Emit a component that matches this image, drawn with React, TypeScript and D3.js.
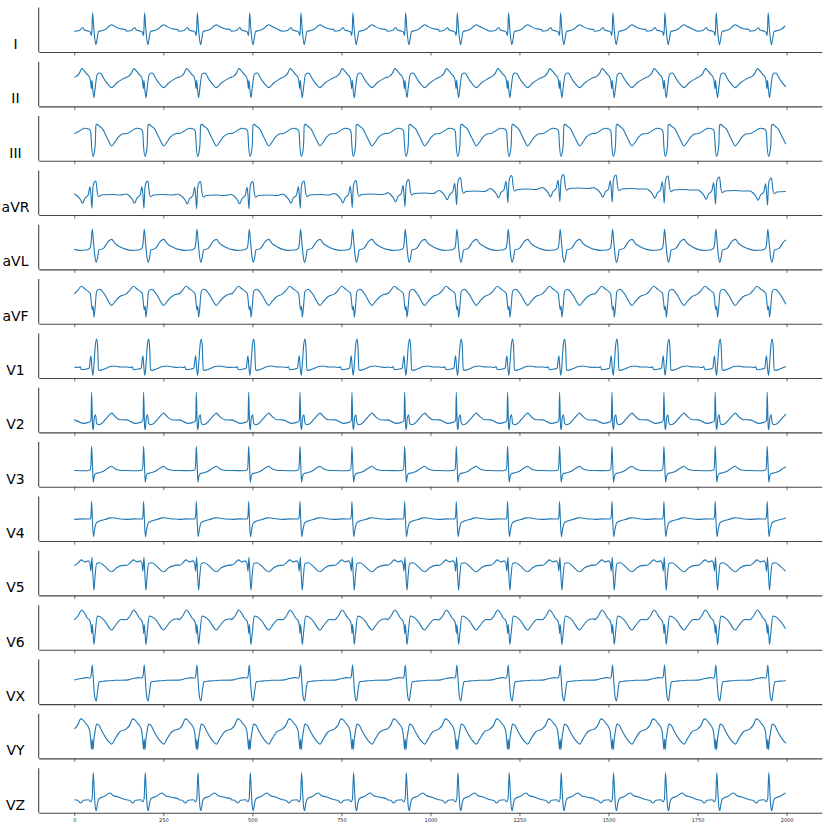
import React, { useEffect, useRef } from 'react';
import * as d3 from 'd3';

// ---------------- data ----------------
const leadNames = ['I', 'II', 'III', 'aVR', 'aVL', 'aVF', 'V1', 'V2', 'V3', 'V4', 'V5', 'V6', 'VX', 'VY', 'VZ'];
// sample index of each beat (R wave in VZ)
const beatSamples = [54, 200, 348, 495, 639, 785, 933, 1078, 1222, 1368, 1515, 1661, 1805, 1951];
const xTicks = [0, 250, 500, 750, 1000, 1250, 1500, 1750, 2000];
const lastSample = 1999;

// beat templates: [offset from beat (samples), amplitude]
const leadI: [number, number][] = [[-54, 20.7], [-40, 21.5], [-30, 24.5], [-26, 22], [-15, 21], [-9, 20], [-6, 16.5], [-4.5, 22], [-2.6, 39.3], [0, 27], [3, 15], [6.5, 7.3], [10, 13], [14, 20.5], [25, 21.5], [35, 23], [45, 26], [51, 27.3], [60, 25.5], [74, 23.3], [90, 22.5]];
const leadII: [number, number][] = [[-54, 29], [-48, 30], [-40, 33], [-33, 37.7], [-27, 36], [-18, 32], [-11, 29], [-8, 24], [-6, 17.7], [-4.5, 26], [-1.7, 16], [1.1, 8.7], [4.8, 19], [10.4, 32], [18, 33.3], [32, 26], [47, 19.5], [50, 18.7], [65, 23.3], [79, 26.7], [92, 29]];
const leadIII: [number, number][] = [[-54, 27], [-40, 29.5], [-25, 32.5], [-12, 31.5], [-8, 29], [-5.4, 14], [-1.7, 4.3], [1.1, 6.5], [4.8, 16], [6.7, 35.3], [10.4, 36.3], [16, 34.5], [25, 32], [37, 23.7], [47, 16.5], [50, 14.7], [60, 18.5], [70, 23.7], [84, 27], [92, 27.5]];
const leadAVR: [number, number][] = [[-54, 21], [-45, 19], [-36, 15], [-31, 11.7], [-24, 17], [-15, 20], [-10, 28.3], [-7.5, 21], [-4.5, 6.7], [-1.5, 28], [3, 33.3], [6.7, 34], [10.4, 23], [14.2, 18.3], [22, 20], [47, 20.5], [75, 20], [92, 21]];
const leadAVL: [number, number][] = [[-54, 20], [-40, 19], [-20, 19.3], [-10, 21], [-7, 26], [-3.6, 40], [0.2, 26], [3.9, 12.7], [7.6, 7], [11, 11], [15, 19.3], [28, 21], [41, 27.7], [47.5, 29.5], [51, 30], [60, 26], [74, 22.7], [92, 20]];
const leadAVF: [number, number][] = [[-54, 29.8], [-45, 33], [-34, 37.5], [-25, 35], [-14, 32], [-9, 30], [-6.4, 22], [-3.6, 13.8], [-1, 17.5], [1.1, 6.5], [3.9, 14], [8.6, 32.2], [16, 34.5], [22, 33.5], [32, 28.8], [47, 19.5], [51, 18.2], [60, 22], [74, 27.2], [92, 29.8]];
const leadV1: [number, number][] = [[-54, 11], [-42, 10.5], [-38, 11.5], [-34, 8.3], [-20, 9], [-12, 10], [-10, 16], [-7.3, 22.3], [-4.5, 10], [-1.7, 2.7], [1.5, 15], [4.8, 31.7], [8.6, 39], [11.4, 31.7], [14.2, 8.3], [18, 7.7], [30, 9], [47, 11.5], [60, 12], [75, 11], [92, 10.5]];
const leadV2: [number, number][] = [[-54, 12.5], [-40, 10.5], [-30, 9], [-15, 10], [-9, 11], [-7, 13], [-5.4, 40], [-2.6, 6], [-0.8, 2.7], [2, 14.3], [5.8, 17.7], [8.6, 9.3], [13.3, 7.7], [22, 8.7], [36.6, 14.3], [47.5, 18.5], [51, 19.3], [60, 16], [74, 12.7], [92, 12.3]];
const leadV3: [number, number][] = [[-54, 16.2], [-20, 16], [-9, 17], [-7, 25], [-5.4, 40.5], [-3, 22], [-0.8, 4.5], [2, 10.5], [6, 13.2], [14, 13.8], [28, 15.5], [41, 18.8], [47.5, 20], [51, 20.5], [60, 18], [74, 16.5], [92, 16.2]];
const leadV4: [number, number][] = [[-54, 21.7], [-30, 22.2], [-10, 22], [-7, 26], [-5.4, 39.5], [-3, 20], [-0.3, 4.3], [3, 11.5], [8, 18.3], [17, 20], [32, 21.5], [47.5, 23.2], [52, 23.3], [70, 22.3], [92, 21.8]];
const leadV5: [number, number][] = [[-54, 30], [-45, 32], [-34, 35.5], [-25, 33.5], [-15, 34.5], [-10, 32], [-7.3, 24.3], [-4.5, 38], [-2, 22], [1.1, 5.3], [4.5, 20], [8.6, 32], [18, 32.7], [32, 29], [46, 24.3], [51, 23.7], [65, 27.7], [83, 30], [92, 30.5]];
const leadV6: [number, number][] = [[-54, 30], [-44, 33.5], [-33, 39.7], [-27, 37.5], [-18, 32], [-10, 28.7], [-7, 23.7], [-5, 16.3], [-3.6, 25.3], [-0.8, 13.7], [1.1, 5.3], [4.8, 17], [10.4, 33.7], [18, 33], [32, 28.7], [46, 21], [51, 19.7], [60, 23.7], [78, 30.3], [92, 31]];
const leadVX: [number, number][] = [[-54, 24], [-35, 25.5], [-20, 26.5], [-10, 26], [-7, 28], [-3.6, 39], [-0.8, 26], [2, 12], [4.8, 4.9], [7.6, 3.2], [11.4, 13], [16, 22.2], [30, 23], [47.5, 23.4], [60, 23.8], [92, 24]];
const leadVY: [number, number][] = [[-54, 29.5], [-45, 33], [-36, 39.5], [-30, 38.5], [-22, 35], [-14, 31], [-10, 26], [-7.3, 16], [-5.4, 9.3], [-3.6, 19], [-1.7, 8.7], [1, 19], [3.9, 26], [8.6, 34.3], [16, 32.7], [23, 27.7], [37, 19.3], [47.5, 15], [51, 14.3], [60, 19.3], [74, 26.7], [92, 29.3]];
const leadVZ: [number, number][] = [[-54, 13], [-45, 12.5], [-36, 9.7], [-28, 12.5], [-14, 13], [-8, 11], [-4, 14], [-0.8, 40.3], [2, 22], [4.8, 6], [7.6, 2], [11.4, 10], [16, 14.3], [30, 16.3], [46, 19.7], [55, 17.3], [70, 15.7], [92, 14]];

const templates = [leadI, leadII, leadIII, leadAVR, leadAVL, leadAVF, leadV1, leadV2, leadV3, leadV4, leadV5, leadV6, leadVX, leadVY, leadVZ];

// per-beat baseline shift of aVR (it drifts upward mid-record)
const aVRShift = [0, 0, -0.5, -0.5, 0, 0.5, 1.5, 3.5, 5.5, 6.5, 6, 5, 4, 3];
const beatShifts: (number[] | null)[] = [null, null, null, aVRShift, null, null, null, null, null, null, null, null, null, null, null];

// ---------------- layout ----------------
const W = 830;
const H = 830;
const axLeft = 38.7;
const axRight = 821.8;
const firstBottom = 52;
const rowStep = 54.34;
const panelH = 44.6;

function buildSeries(tpl: [number, number][], shifts: number[] | null): [number, number][] {
  const pts: [number, number][] = [];
  beatSamples.forEach((b, i) => {
    const next = i < beatSamples.length - 1 ? beatSamples[i + 1] : null;
    const sh = shifts ? shifts[i] : 0;
    tpl.forEach(([dt, v]) => {
      const s = b + dt;
      if (s < 0 || s > lastSample) return;
      if (next !== null && s >= next - 54 - 0.5) return;
      pts.push([s, v + sh]);
    });
  });
  return pts;
}

export default function App() {
  const ref = useRef<SVGSVGElement | null>(null);

  useEffect(() => {
    document.body.style.margin = '0';
    const svg = d3.select(ref.current);
    svg.selectAll('*').remove();

    const x = d3.scaleLinear().domain([-99.95, 2098.95]).range([axLeft, axRight]);

    leadNames.forEach((name, k) => {
      const bottom = firstBottom + rowStep * k;
      const top = bottom - panelH;
      const y = d3.scaleLinear().domain([0, panelH]).range([bottom, top]);
      const g = svg.append('g');

      const data = buildSeries(templates[k], beatShifts[k]);
      const line = d3
        .line<[number, number]>()
        .x((d) => x(d[0]))
        .y((d) => y(d[1]))
        .curve(d3.curveMonotoneX);

      g.append('path')
        .attr('d', line(data) || '')
        .attr('fill', 'none')
        .attr('stroke', '#1f77b4')
        .attr('stroke-width', 1.1)
        .attr('stroke-linejoin', 'round');

      // left spine
      g.append('line')
        .attr('x1', axLeft)
        .attr('x2', axLeft)
        .attr('y1', top)
        .attr('y2', bottom)
        .attr('stroke', '#444')
        .attr('stroke-width', 1.1);

      // bottom axis
      const axis = d3
        .axisBottom(x)
        .tickValues(xTicks)
        .tickSize(3.5)
        .tickSizeOuter(0)
        .tickPadding(2)
        .tickFormat(k === leadNames.length - 1 ? (d) => String(d) : () => '');
      const ag = g.append('g').attr('transform', `translate(0,${bottom})`).call(axis);
      ag.select('.domain').attr('stroke', '#444').attr('stroke-width', 1.1);
      ag.selectAll('.tick line').attr('stroke', '#444').attr('stroke-width', 0.8);
      ag.selectAll('.tick text')
        .attr('fill', '#222')
        .style('font-family', 'DejaVu Sans, sans-serif')
        .style('font-size', '5px');

      g.append('text')
        .attr('x', 15.5)
        .attr('y', bottom - 3)
        .attr('text-anchor', 'middle')
        .style('font-family', 'DejaVu Sans, sans-serif')
        .style('font-size', '14px')
        .attr('fill', '#000')
        .text(name);
    });
  }, []);

  return (
    <svg
      ref={ref}
      width={W}
      height={H}
      style={{ position: 'absolute', left: 0, top: 0, background: '#fff' }}
    />
  );
}
